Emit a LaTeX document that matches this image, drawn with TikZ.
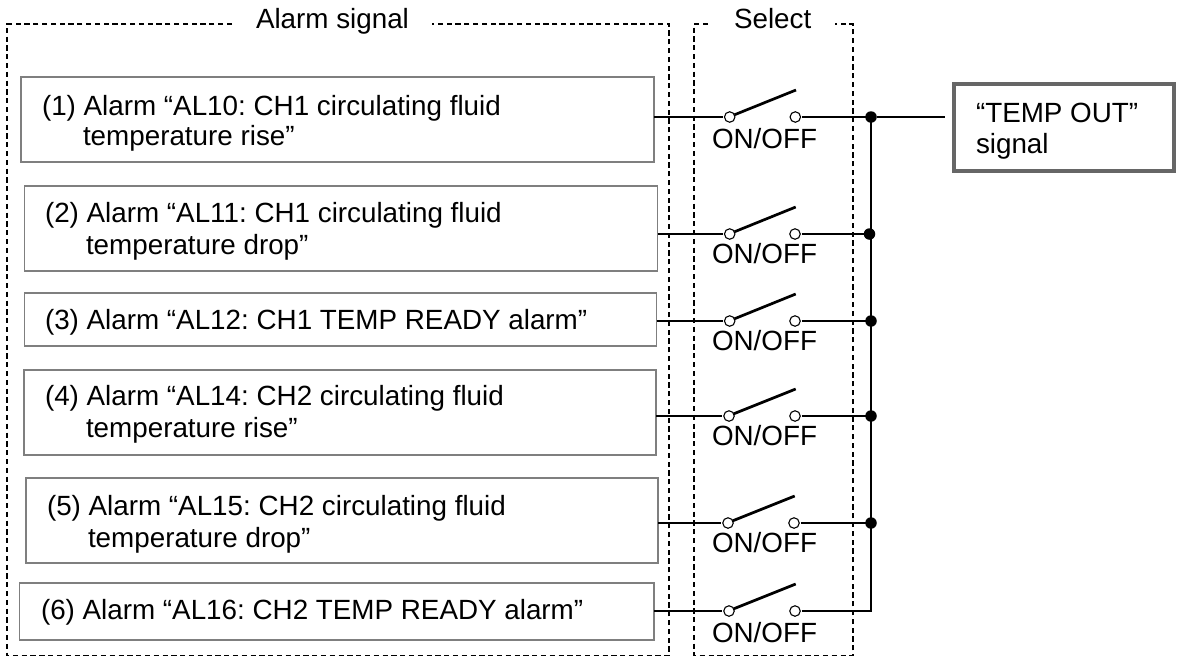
\documentclass[tikz,border=0pt]{standalone}
\usepackage{fontspec}
\setmainfont{Liberation Sans}
\frenchspacing
\definecolor{boxgray}{HTML}{7F7F7F}
\definecolor{outgray}{HTML}{666666}
\tikzset{
  x=1pt,y=-1pt,
  txt/.style={anchor=base west,inner sep=0pt,outer sep=0pt,text=black,font=\fontsize{27.8}{30}\selectfont},
  alarmbox/.style={draw=boxgray,line width=1.3pt,fill=white,inner sep=0pt,outer sep=0pt},
  outbox/.style={draw=outgray,line width=3.8pt,fill=white,inner sep=0pt,outer sep=0pt},
  frame/.style={draw=black,line width=1.1pt,dash pattern=on 5.2pt off 3.6pt},
  wire/.style={draw=black,line width=2.7pt},
  contact/.style={circle,draw=black,fill=white,line width=1.1pt,minimum size=10.5pt,inner sep=0pt,outer sep=0pt},
  jdot/.style={circle,fill=black,minimum size=11.5pt,inner sep=0pt,outer sep=0pt},
}
\begin{document}
\begin{tikzpicture}
\useasboundingbox (0,0) rectangle (1177,657);
% dashed frames
\draw[frame] (232,24) -- (7,24) -- (7,655.5) -- (669,655.5) -- (669,24) -- (432,24);
\draw[frame] (708,24) -- (694,24) -- (694,655.5) -- (853,655.5) -- (853,24) -- (835,24);
\node[txt] (ttlA) at (256,28) {Alarm signal};
\node[txt] (ttlS) at (734,28) {Select};
% alarm boxes
\node[alarmbox,minimum width=633pt,minimum height=85pt] (b1) at (337.5,119.5) {};
\node[alarmbox,minimum width=633pt,minimum height=85pt] (b2) at (341,228.5) {};
\node[alarmbox,minimum width=632pt,minimum height=53pt] (b3) at (340.5,319.5) {};
\node[alarmbox,minimum width=632pt,minimum height=85pt] (b4) at (340,412.5) {};
\node[alarmbox,minimum width=632pt,minimum height=85pt] (b5) at (342,520.5) {};
\node[alarmbox,minimum width=634.5pt,minimum height=57pt] (b6) at (336.75,611.5) {};
% box texts
\node[txt] (t1a) at (42,115) {(1) Alarm “AL10: CH1 circulating fluid};
\node[txt] (t1b) at (83,145) {temperature rise”};
\node[txt] (t2a) at (45,222) {(2) Alarm “AL11: CH1 circulating fluid};
\node[txt] (t2b) at (86,254) {temperature drop”};
\node[txt] (t3a) at (45,329) {(3) Alarm “AL12: CH1 TEMP READY alarm”};
\node[txt] (t4a) at (45,405) {(4) Alarm “AL14: CH2 circulating fluid};
\node[txt] (t4b) at (86,437) {temperature rise”};
\node[txt] (t5a) at (47,515) {(5) Alarm “AL15: CH2 circulating fluid};
\node[txt] (t5b) at (88,547) {temperature drop”};
\node[txt] (t6a) at (41,619) {(6) Alarm “AL16: CH2 TEMP READY alarm”};
% output box
\node[outbox,minimum width=220pt,minimum height=87pt] (out) at (1064,127.5) {};
\node[txt] (o1) at (976,122) {“TEMP OUT”};
\node[txt] (o2) at (976,153) {signal};
% switches: row / wire y / left contact x / right contact x / label baseline / junction x
\foreach \r/\y/\lx/\rx/\lab/\jx in {1/117/729.7/795.3/148/871,2/234/729.7/795/263/869.5,3/321/729.7/795/350/871,4/416/729/795/445/871,5/523/728/794/552/871,6/611/729/795/642/871}{
  \node[contact] (sl\r) at (\lx,\y) {};
  \node[contact] (sr\r) at (\rx,\y) {};
  \coordinate (tip\r) at (\rx+0.7,\y-27);
  \coordinate (j\r) at (\jx,\y);
  \draw[wire,shorten >=1.5pt] (b\r.east |- sl\r) -- (sl\r.west);
  \draw[wire] (sl\r.25) -- (tip\r);
  \draw[wire,shorten <=1.5pt] (sr\r.east) -- (j\r);
  \node[txt] (lab\r) at (712,\lab) {ON/OFF};
}
% bus
\draw[wire,line cap=rect] (871,117) -- (871,611) -- (j6);
\foreach \r in {1,2,3,4,5}{
  \node[jdot] (d\r) at (j\r) {};
}
\draw[wire,shorten >=9pt] (d1.east) -- (out.west |- d1);
\end{tikzpicture}
\end{document}
